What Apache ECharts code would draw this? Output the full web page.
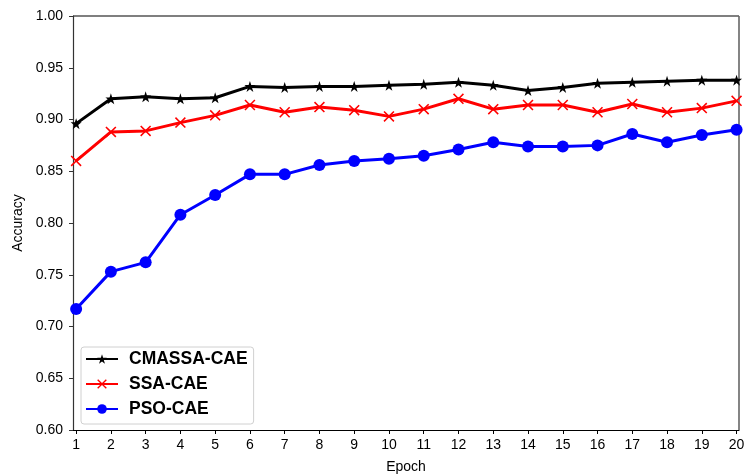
<!DOCTYPE html>
<html>
<head>
<meta charset="utf-8">
<script src="https://cdn.jsdelivr.net/npm/echarts@6/dist/echarts.min.js"></script>
<style>
  html, body { margin: 0; padding: 0; background: #fff; }
  #chart { width: 745px; height: 475px; }
</style>
</head>
<body>
<div id="chart"></div>
<script>
// Accuracy per training epoch for three optimiser-tuned convolutional autoencoders
const epochs = [1, 2, 3, 4, 5, 6, 7, 8, 9, 10, 11, 12, 13, 14, 15, 16, 17, 18, 19, 20];
const cmassaCae = [0.896, 0.920, 0.922, 0.920, 0.921, 0.932, 0.931, 0.932, 0.932, 0.933,
                   0.934, 0.936, 0.933, 0.928, 0.931, 0.935, 0.936, 0.937, 0.938, 0.938];
const ssaCae    = [0.860, 0.888, 0.889, 0.897, 0.904, 0.914, 0.907, 0.912, 0.909, 0.903,
                   0.910, 0.920, 0.910, 0.914, 0.914, 0.907, 0.915, 0.907, 0.911, 0.918];
const psoCae    = [0.717, 0.753, 0.762, 0.808, 0.827, 0.847, 0.847, 0.856, 0.860, 0.862,
                   0.865, 0.871, 0.878, 0.874, 0.874, 0.875, 0.886, 0.878, 0.885, 0.890];
const seriesNames = ['CMASSA-CAE', 'SSA-CAE', 'PSO-CAE'];

const FONT = '"Liberation Sans", Arial, sans-serif';
const STAR = 'path://M0,-1 L0.2245,-0.309 L0.951,-0.309 L0.363,0.118 L0.588,0.809 L0,0.382 L-0.588,0.809 L-0.363,0.118 L-0.951,-0.309 L-0.2245,-0.309 Z';
const CROSS = 'path://M0,1 L1,0 L5,4 L9,0 L10,1 L6,5 L10,9 L9,10 L5,6 L1,10 L0,9 L4,5 Z';

const pairs = vals => epochs.map((e, i) => [e, vals[i]]);

function lineSeries(name, vals, color, symbol, size) {
  return {
    name: name,
    type: 'line',
    data: pairs(vals),
    symbol: symbol,
    symbolSize: size,
    showAllSymbol: true,
    lineStyle: { color: color, width: 3 },
    itemStyle: { color: color, borderWidth: 0 },
    emphasis: { disabled: true },
    z: 3
  };
}

const chart = echarts.init(document.getElementById('chart'), null, { renderer: 'canvas' });
chart.setOption({
  animation: false,
  backgroundColor: '#ffffff',
  grid: { left: 73, right: 6, top: 16, bottom: 45, show: false,
          containLabel: false, outerBoundsMode: 'none' },
  legend: {
    orient: 'vertical',
    left: 81,
    top: 347,
    data: seriesNames,
    itemWidth: 32,
    itemHeight: 12,
    itemGap: 7,
    padding: [3, 6, 6, 4],
    backgroundColor: 'rgba(255,255,255,0.8)',
    borderColor: '#d0d0d0',
    borderWidth: 1,
    borderRadius: 3,
    textStyle: { fontFamily: FONT, fontSize: 17.5, fontWeight: 'bold', color: '#000',
                 padding: [0, 0, 0, 6] }
  },
  xAxis: {
    type: 'value',
    min: 0.91,
    max: 20.07,
    name: 'Epoch',
    nameLocation: 'middle',
    nameGap: 30,
    nameTextStyle: { fontFamily: FONT, fontSize: 14, color: '#000' },
    axisLine: { show: true, onZero: false, lineStyle: { color: '#000', width: 1.2 } },
    axisTick: { show: true, length: 4, inside: false, customValues: epochs, lineStyle: { color: '#000' } },
    axisLabel: { customValues: epochs, margin: 8, fontFamily: FONT, fontSize: 14, color: '#000' },
    splitLine: { show: false }
  },
  yAxis: {
    type: 'value',
    min: 0.60,
    max: 1.00,
    interval: 0.05,
    name: 'Accuracy',
    nameLocation: 'middle',
    nameGap: 40,
    nameTextStyle: { fontFamily: FONT, fontSize: 14, color: '#000' },
    axisLine: { show: true, lineStyle: { color: '#333', width: 1.2 } },
    axisTick: { show: true, length: 4, inside: false, lineStyle: { color: '#333' } },
    axisLabel: { margin: 10, fontFamily: FONT, fontSize: 14, color: '#000',
                 formatter: v => v.toFixed(2) },
    splitLine: { show: false }
  },
  series: [
    lineSeries(seriesNames[0], cmassaCae, '#000000', STAR, 11),
    lineSeries(seriesNames[1], ssaCae, '#ff0000', CROSS, 11),
    lineSeries(seriesNames[2], psoCae, '#0000ff', 'circle', 12)
  ],
  graphic: [
    // top and right frame lines of the plotting area
    { type: 'line', shape: { x1: 73, y1: 16, x2: 739, y2: 16 }, style: { stroke: '#000', lineWidth: 1.2 }, silent: true },
    { type: 'line', shape: { x1: 739, y1: 16, x2: 739, y2: 430 }, style: { stroke: '#666', lineWidth: 1.6 }, silent: true }
  ]
});
</script>
</body>
</html>
